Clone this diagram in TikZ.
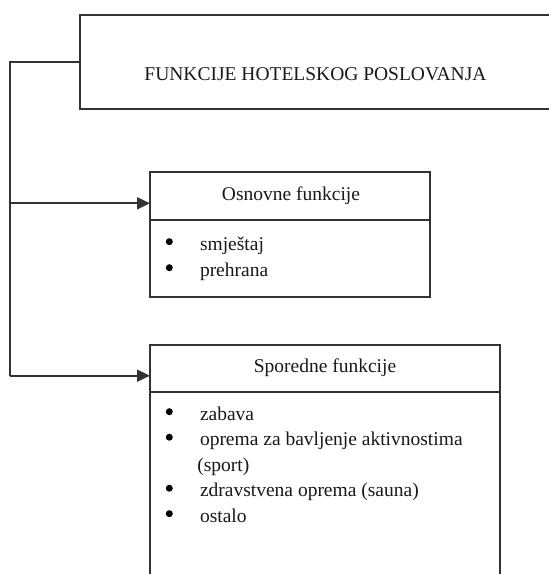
\documentclass[tikz,border=0pt]{standalone}
\usepackage{fontspec}
\setmainfont{Liberation Serif}
\usetikzlibrary{arrows.meta}
\tikzset{
  boxstyle/.style={draw=black!80, line width=1.8pt, rectangle, inner sep=0pt, outer sep=0pt, anchor=north west},
  conn/.style={draw=black!80, line width=1.8pt},
  arr/.style={conn, -{Triangle[length=13pt,width=12pt]}},
  txt/.style={inner sep=0pt, outer sep=0pt, text=black!90, font=\fontsize{19.5}{23}\selectfont},
  dot/.style={fill=black}
}
\begin{document}
\begin{tikzpicture}[x=1pt,y=-1pt]
\clip (0,0) rectangle (549,574);
\fill[white] (0,0) rectangle (549,574);

% top box
\node[boxstyle, minimum width=474pt, minimum height=94.3pt] (top) at (80,15) {};
\node[txt, anchor=base] (toptext) at (315.5,80) {FUNKCIJE HOTELSKOG POSLOVANJA};

% Osnovne funkcije
\node[boxstyle, minimum width=280pt, minimum height=47.7pt] (osnHead) at (150,172.3) {};
\node[boxstyle, minimum width=280pt, minimum height=77.3pt] (osnBody) at (150,220) {};
\node[txt, anchor=base] (osnTitle) at (291,200) {Osnovne funkcije};
\fill[dot] (169.3,241.7) circle (3.5pt);
\node[txt, anchor=base west] (o1) at (200,250) {smještaj};
\fill[dot] (169.3,267.7) circle (3.5pt);
\node[txt, anchor=base west] (o2) at (200,276) {prehrana};

% Sporedne funkcije
\node[boxstyle, minimum width=350pt, minimum height=46.7pt] (spHead) at (150,345) {};
\node[boxstyle, minimum width=350pt, minimum height=220pt] (spBody) at (150,391.7) {};
\node[txt, anchor=base] (spTitle) at (325,372.7) {Sporedne funkcije};
\fill[dot] (169.3,411.7) circle (3.5pt);
\node[txt, anchor=base west] (s1) at (200,420) {zabava};
\fill[dot] (169.3,437.2) circle (3.5pt);
\node[txt, anchor=base west] (s2) at (200,445.5) {oprema za bavljenje aktivnostima};
\node[txt, anchor=base west] (s2b) at (197.3,471) {(sport)};
\fill[dot] (169.3,488.2) circle (3.5pt);
\node[txt, anchor=base west] (s3) at (200,496.5) {zdravstvena oprema (sauna)};
\fill[dot] (169.3,513.7) circle (3.5pt);
\node[txt, anchor=base west] (s4) at (200,522) {ostalo};

% connectors
\coordinate (j1) at (10,203.3);
\coordinate (j2) at (10,375.7);
\draw[conn] (top.west) -| (j2);
\draw[arr] (j1) -- (j1 -| osnHead.west);
\draw[arr] (j2) -- (j2 -| spHead.west);
\end{tikzpicture}
\end{document}
